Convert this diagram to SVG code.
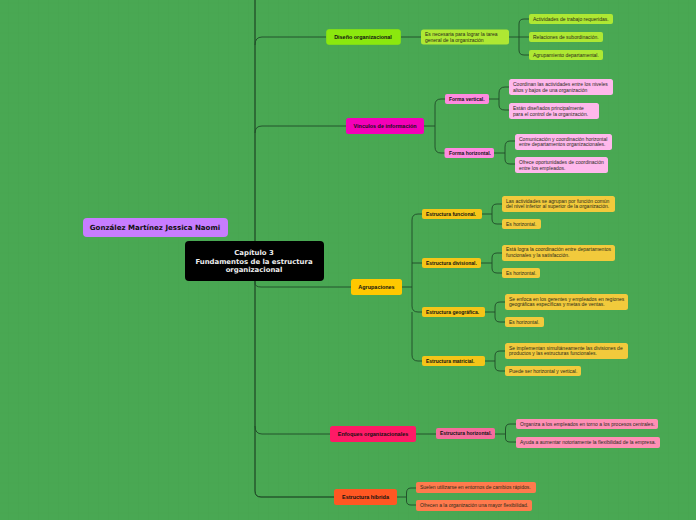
<svg xmlns="http://www.w3.org/2000/svg" width="696" height="520" viewBox="0 0 696 520">
<defs>
<pattern id="grid" x="8" y="2.500" width="10" height="10" patternUnits="userSpaceOnUse"><path d="M10 0H0V10" fill="none" stroke="#44a14e" stroke-width="0.6"/></pattern>
</defs>
<style>
text{font-family:"Liberation Sans",Arial,sans-serif;fill:#2a2a1a;font-size:5px}
.b{font-weight:700;fill:#111}
.p{font-size:5.450px}
.c{text-anchor:middle}
.v{font-family:"DejaVu Sans",Verdana,sans-serif;font-weight:700;font-size:6.900px}
rect{stroke-width:.6}
#connectors path{fill:none;stroke:#1f4a28;stroke-width:.9}
#connectors path.s{stroke:#14301a;stroke-width:1}
</style>
<rect width="696" height="520" fill="#49a853"/>
<rect width="696" height="520" fill="url(#grid)"/>
<g id="connectors">
<path class="s" d="M255 0V241M255 281V491Q255 497 261 497H334"/>
<path d="M255 281V283Q255 287 261 287H351"/>
<path d="M255 45Q255 37 262 37H326"/>
<path d="M255 133Q255 126 262 126H346"/>
<path d="M255 426Q255 434 262 434H330"/>
<path d="M401 37H421M509 37H519M519 37V24Q519 19 524 19H529M519 37V50Q519 55 524 55H529M519 37H529"/>
<path d="M424 126H435M435 126V105Q435 99 441 99H445M435 126V147Q435 153 441 153H445"/>
<path d="M489 99H499M499 99V93Q499 87 505 87H509M499 99V105Q499 110 505 110H509"/>
<path d="M494 153H505M505 153V147Q505 141 510 141H515M505 153V159Q505 164 510 164H515"/>
<path d="M402 287H412M412 287V220Q412 214 418 214H422M412 263H422M412 287V306Q412 312 418 312H422M412 312V355Q412 361 418 361H422"/>
<path d="M482 214H492M492 214V209Q492 204 497 204H502M492 214V219Q492 224 497 224H502"/>
<path d="M481 263H492M492 263V258Q492 253 497 253H502M492 263V268Q492 273 497 273H502"/>
<path d="M485 312H495M495 312V307Q495 302 500 302H505M495 312V317Q495 322 500 322H505"/>
<path d="M485 361H495M495 361V356Q495 351 500 351H505M495 361V366Q495 371 500 371H505"/>
<path d="M416 434H436M495 434H505.500M505.500 434V429Q505.500 424 510 424H516M505.500 434V438Q505.500 442 510 442H516"/>
<path d="M397 497H406.500M406.500 497V493Q406.500 488 411 488H416M406.500 497V501Q406.500 505 411 505H416"/>
</g>
<g id="autor"><rect x="83" y="218" width="145" height="19" rx="4" fill="#c77dff"/><text class="b v c" x="155" y="230" style="font-size:7.050px">González Martínez Jessica Naomi</text></g>
<g id="central"><rect x="185" y="241" width="139" height="40" rx="4" fill="#000"/><text class="c v" x="254" y="255" style="fill:#eee">Capítulo 3</text><text class="c v" x="254" y="264" style="fill:#eee">Fundamentos de la estructura</text><text class="c v" x="254" y="272" style="fill:#eee">organizacional</text></g>

<g id="diseno"><rect x="326.500" y="29.500" width="74" height="15" rx="2.500" fill="#8be80e" stroke="#8be80e"/><text class="b c p" x="363" y="39">Diseño organizacional</text></g>
<g id="diseno-1"><rect x="421" y="29.500" width="88" height="15" rx="2.500" fill="#aee833"/><text x="425" y="36">Es necesaria para lograr la tarea</text><text x="425" y="42">general de la organización</text></g>
<g id="diseno-1a"><rect x="529" y="14" width="84" height="10" rx="2" fill="#aee833"/><text x="533" y="21">Actividades de trabajo requeridas.</text></g>
<g id="diseno-1b"><rect x="529" y="32" width="74" height="10" rx="2" fill="#aee833"/><text x="533" y="39">Relaciones de subordinación.</text></g>
<g id="diseno-1c"><rect x="529" y="50" width="74" height="10" rx="2" fill="#aee833"/><text x="533" y="57">Agrupamiento departamental.</text></g>

<g id="vinculos"><rect x="346" y="118" width="78" height="16" rx="2.500" fill="#f400b8"/><text class="b c p" x="385" y="128">Vínculos de información</text></g>
<g id="vertical"><rect x="445" y="94" width="44" height="10" rx="2" fill="#ff8ae0"/><text class="b" x="449" y="101">Forma vertical.</text></g>
<g id="vertical-a"><rect x="509" y="79" width="104" height="16" rx="2.500" fill="#ffb8ec"/><text x="513" y="85.500">Coordinan las actividades entre los niveles</text><text x="513" y="92">altos y bajos de una organización</text></g>
<g id="vertical-b"><rect x="509" y="103" width="90" height="16" rx="2.500" fill="#ffb8ec"/><text x="513" y="109.500">Están diseñados principalmente</text><text x="513" y="115.500">para el control de la organización.</text></g>
<g id="horizontal"><rect x="444.500" y="148" width="49.500" height="10" rx="2" fill="#ff8ae0"/><text class="b" x="449" y="155">Forma horizontal.</text></g>
<g id="horizontal-a"><rect x="515" y="134" width="97" height="16" rx="2.500" fill="#ffb8ec"/><text x="519" y="140.500">Comunicación y coordinación horizontal</text><text x="519" y="146">entre departamentos organizacionales.</text></g>
<g id="horizontal-b"><rect x="515" y="157" width="93" height="16" rx="2.500" fill="#ffb8ec"/><text x="519" y="163.500">Ofrece oportunidades de coordinación</text><text x="519" y="170">entre los empleados.</text></g>

<g id="agrupaciones"><rect x="351" y="279" width="51" height="16" rx="2.500" fill="#ffc800"/><text class="b c p" x="376.500" y="289">Agrupaciones</text></g>
<g id="funcional"><rect x="422" y="209" width="60" height="10" rx="2" fill="#f5c518"/><text class="b" x="426" y="216">Estructura funcional.</text></g>
<g id="funcional-a"><rect x="502" y="196" width="113" height="16" rx="2.500" fill="#f2ca3c"/><text x="506" y="202.500">Las actividades se agrupan por función común</text><text x="506" y="208">del nivel inferior al superior de la organización.</text></g>
<g id="funcional-b"><rect x="502" y="219" width="39" height="10" rx="2" fill="#f2ca3c"/><text x="506" y="226">Es horizontal.</text></g>
<g id="divisional"><rect x="422" y="258" width="59" height="10" rx="2" fill="#f5c518"/><text class="b" x="426" y="265">Estructura divisional.</text></g>
<g id="divisional-a"><rect x="502" y="245" width="113" height="16" rx="2.500" fill="#f2ca3c"/><text x="506" y="251">Está logra la coordinación entre departamentos</text><text x="506" y="257">funcionales y la satisfacción.</text></g>
<g id="divisional-b"><rect x="502" y="268" width="38" height="10" rx="2" fill="#f2ca3c"/><text x="506" y="275">Es horizontal.</text></g>
<g id="geografica"><rect x="422" y="307" width="63" height="10" rx="2" fill="#f5c518"/><text class="b" x="426" y="314">Estructura geográfica.</text></g>
<g id="geografica-a"><rect x="505" y="294" width="123" height="16" rx="2.500" fill="#f2ca3c"/><text x="509" y="300.500">Se enfoca en los gerentes y empleados en regiones</text><text x="509" y="306">geográficas específicas y metas de ventas.</text></g>
<g id="geografica-b"><rect x="505" y="317" width="39" height="10" rx="2" fill="#f2ca3c"/><text x="509" y="324">Es horizontal.</text></g>
<g id="matricial"><rect x="422" y="356" width="63" height="10" rx="2" fill="#f5c518"/><text class="b" x="426" y="363">Estructura matricial.</text></g>
<g id="matricial-a"><rect x="505" y="343" width="123" height="16" rx="2.500" fill="#f2ca3c"/><text x="509" y="349.500">Se implementan simultáneamente las divisiones de</text><text x="509" y="355">productos y las estructuras funcionales.</text></g>
<g id="matricial-b"><rect x="505" y="366" width="76" height="10" rx="2" fill="#f2ca3c"/><text x="509" y="373">Puede ser horizontal y vertical.</text></g>

<g id="enfoques"><rect x="330" y="426" width="86" height="16" rx="2.500" fill="#ff1a66"/><text class="b c p" x="373" y="436">Enfoques organizacionales</text></g>
<g id="est-horizontal"><rect x="436" y="428" width="59" height="11" rx="2" fill="#f56c9c"/><text class="b" x="440" y="435">Estructura horizontal.</text></g>
<g id="est-horizontal-a"><rect x="516" y="419" width="142" height="10" rx="2" fill="#ff8fb4"/><text x="520" y="426">Organiza a los empleados en torno a los procesos centrales.</text></g>
<g id="est-horizontal-b"><rect x="516" y="437" width="144" height="11" rx="2" fill="#ff8fb4"/><text x="520" y="444">Ayuda a aumentar notoriamente la flexibilidad de la empresa.</text></g>

<g id="hibrida"><rect x="334" y="489" width="63" height="16" rx="2.500" fill="#ff5722"/><text class="b c p" x="365.500" y="499">Estructura híbrida</text></g>
<g id="hibrida-a"><rect x="416" y="482" width="120" height="11" rx="2" fill="#ff7a4d"/><text x="420" y="489">Suelen utilizarse en entornos de cambios rápidos.</text></g>
<g id="hibrida-b"><rect x="416" y="500" width="116" height="11" rx="2" fill="#ff7a4d"/><text x="420" y="507">Ofrecen a la organización una mayor flexibilidad.</text></g>
</svg>
